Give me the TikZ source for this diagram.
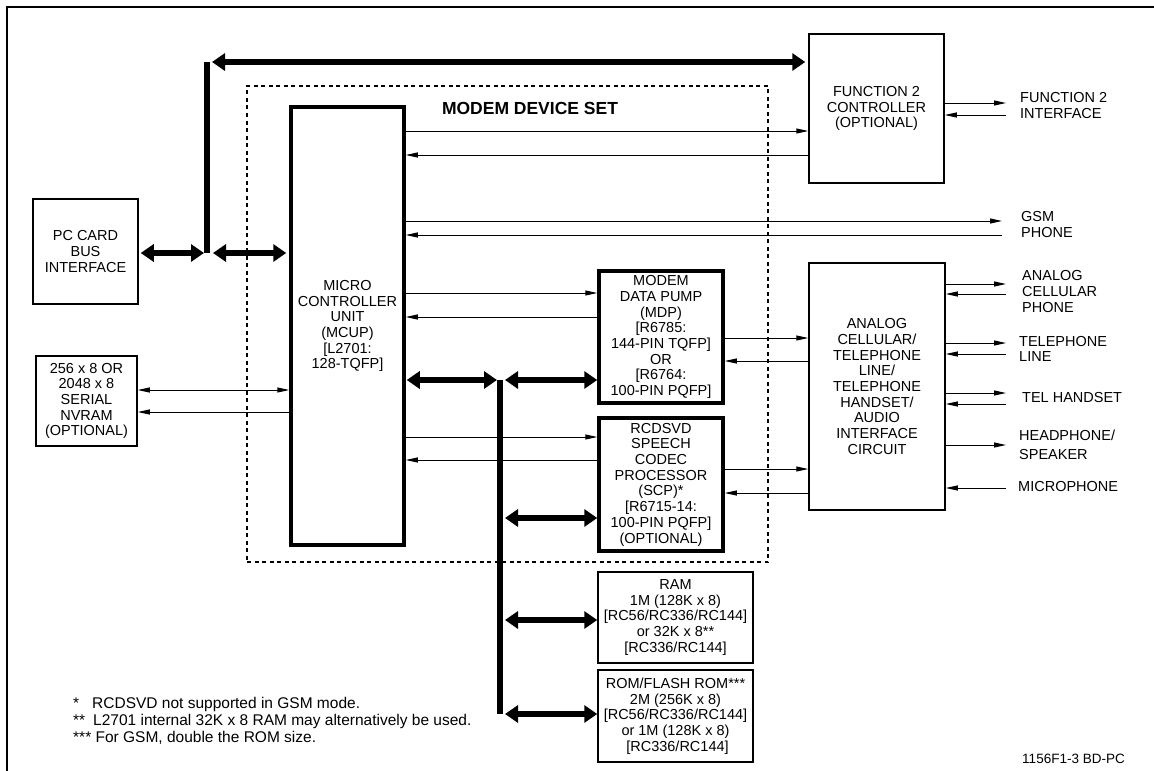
\documentclass[tikz,border=0pt]{standalone}
\usepackage{fontspec}
\setmainfont{Liberation Sans}
\usetikzlibrary{arrows.meta,positioning}

\newcommand{\blockfont}{\fontsize{14.5}{15.7}\selectfont}
\newcommand{\notefont}{\fontsize{15.5}{17}\selectfont}

\begin{document}
\begin{tikzpicture}[x=1pt,y=-1pt,
    box/.style={draw, line width=1.5pt, inner sep=0pt, align=center, font=\blockfont},
    chip/.style={box, line width=3.5pt},
    sig/.style={line width=1pt, >={Triangle[length=12pt,width=5pt]}},
    bus/.style={line width=5.5pt},
    busarrow/.style={line width=5.5pt, >={Triangle[length=13pt,width=17pt]}, <->},
    outlabel/.style={anchor=west, align=left, inner sep=0pt, font=\blockfont}]
    \useasboundingbox (0,0) rectangle (1154,771);

    % Frame
    \draw[line width=2.2pt] (7,771) -- (7,7) -- (1154,7);

    % Modem device set
    \node[draw, line width=1.5pt, dash pattern=on 4pt off 3.5pt, minimum width=521pt, minimum height=476pt] (devset) at (507.5,324) {};
    \node[font=\bfseries\fontsize{17.5}{19}\selectfont] (devtitle) at (530,108) {MODEM DEVICE SET};

    % Blocks
    \node[box, minimum width=105pt, minimum height=105pt] (pccard) at (85.5,251.5) {PC CARD\\BUS\\INTERFACE};
    \node[box, minimum width=101pt, minimum height=90pt] (nvram) at (86.5,401) {256 x 8 OR\\2048 x 8\\SERIAL\\NVRAM\\(OPTIONAL)};
    \node[chip, minimum width=113pt, minimum height=438pt] (mcu) at (347.5,326) {MICRO\\CONTROLLER\\UNIT\\(MCUP)\\{[}L2701:\\128-TQFP{]}};
    \node[box, minimum width=135pt, minimum height=149pt] (f2) at (876.5,108.5) {FUNCTION 2\\CONTROLLER\\(OPTIONAL)};
    \node[box, minimum width=136pt, minimum height=247pt] (analog) at (877,386.5) {ANALOG\\CELLULAR/\\TELEPHONE\\LINE/\\TELEPHONE\\HANDSET/\\AUDIO\\INTERFACE\\CIRCUIT};
    \node[chip, minimum width=124pt, minimum height=132pt] (mdp) at (661,337) {MODEM\\DATA PUMP\\(MDP)\\{[}R6785:\\144-PIN TQFP{]}\\OR\\{[}R6764:\\100-PIN PQFP{]}};
    \node[chip, minimum width=124pt, minimum height=133pt] (scp) at (661,484.5) {RCDSVD\\SPEECH\\CODEC\\PROCESSOR\\(SCP)*\\{[}R6715-14:\\100-PIN PQFP{]}\\(OPTIONAL)};
    \node[box, minimum width=155pt, minimum height=91pt] (ram) at (675.5,617.5) {RAM\\1M (128K x 8)\\{[}RC56/RC336/RC144{]}\\or 32K x 8**\\{[}RC336/RC144{]}};
    \node[box, minimum width=155pt, minimum height=92pt] (rom) at (675.5,716) {ROM/FLASH ROM***\\2M (256K x 8)\\{[}RC56/RC336/RC144{]}\\or 1M (128K x 8)\\\ {[}RC336/RC144{]}};

    % Outside labels
    \node[outlabel] (lf2) at (1020,105.5) {FUNCTION 2\\INTERFACE};
    \node[outlabel] (lgsm) at (1021,224.5) {GSM\\PHONE};
    \node[outlabel] (lcell) at (1022,291.5) {ANALOG\\CELLULAR\\PHONE};
    \node[outlabel] (lline) at (1019,349) {TELEPHONE\\LINE};
    \node[outlabel] (lhand) at (1022,398) {TEL HANDSET};
    \node[outlabel] (lhead) at (1019,444.5) {HEADPHONE/\\[3pt]SPEAKER};
    \node[outlabel] (lmic) at (1018,487) {MICROPHONE};

    % Bus points
    \coordinate (b1top) at (207,62);
    \coordinate (b1bot) at (207,253);
    \coordinate (b2top) at (500,380);
    \coordinate (b2bot) at (500,714);
    \coordinate (outend) at (1006,0);
    \coordinate (gsmend) at (1002,0);

    % Host bus
    \draw[bus] (b1top) -- (b1bot);
    \draw[busarrow, shorten <=5pt, shorten >=3pt] (b1top) -- (f2.west |- b1top);
    \draw[busarrow, shorten <=2pt, shorten >=3pt] (pccard.east |- b1bot) -- (b1bot);
    \draw[busarrow, shorten <=6pt, shorten >=3pt] (b1bot) -- (mcu.west |- b1bot);

    % Local bus
    \draw[bus] (b2top) -- (b2bot);
    \draw[busarrow, shorten <=1pt, shorten >=3pt] (mcu.east |- b2top) -- (b2top);
    \draw[busarrow, shorten <=5pt] (b2top) -- (mdp.west |- b2top);
    \draw[busarrow, shorten <=5pt] (b2top |- 0,518) -- (scp.west |- 0,518);
    \draw[busarrow, shorten <=5pt] (b2top |- 0,620) -- (ram.west |- 0,620);
    \draw[busarrow, shorten <=5pt] (b2bot) -- (rom.west |- b2bot);

    % MCU signals
    \draw[sig, ->] (mcu.east |- 0,131) -- (f2.west |- 0,131);
    \draw[sig, ->] (f2.west |- 0,155) -- (mcu.east |- 0,155);
    \draw[sig, ->] (mcu.east |- 0,221) -- (gsmend |- 0,221);
    \draw[sig, <-] (mcu.east |- 0,235) -- (gsmend |- 0,235);
    \draw[sig, ->] (mcu.east |- 0,293) -- (mdp.west |- 0,293);
    \draw[sig, ->] (mdp.west |- 0,317) -- (mcu.east |- 0,317);
    \draw[sig, ->] (mcu.east |- 0,437) -- (scp.west |- 0,437);
    \draw[sig, ->] (scp.west |- 0,460) -- (mcu.east |- 0,460);
    \draw[sig, <->] (nvram.east |- 0,390) -- (mcu.west |- 0,390);
    \draw[sig, ->] (mcu.west |- 0,412) -- (nvram.east |- 0,412);

    % Analog interface signals
    \draw[sig, ->] (mdp.east |- 0,338) -- (analog.west |- 0,338);
    \draw[sig, ->] (analog.west |- 0,361) -- (mdp.east |- 0,361);
    \draw[sig, ->] (scp.east |- 0,469) -- (analog.west |- 0,469);
    \draw[sig, ->] (analog.west |- 0,493) -- (scp.east |- 0,493);

    % Outside signals
    \draw[sig, ->] (f2.east |- 0,103) -- (outend |- 0,103);
    \draw[sig, <-] (f2.east |- 0,115) -- (outend |- 0,115);
    \draw[sig, ->] (analog.east |- 0,284) -- (outend |- 0,284);
    \draw[sig, <-] (analog.east |- 0,294) -- (outend |- 0,294);
    \draw[sig, ->] (analog.east |- 0,343) -- (outend |- 0,343);
    \draw[sig, <-] (analog.east |- 0,354) -- (outend |- 0,354);
    \draw[sig, ->] (analog.east |- 0,393) -- (outend |- 0,393);
    \draw[sig, <-] (analog.east |- 0,404) -- (outend |- 0,404);
    \draw[sig, ->] (analog.east |- 0,445) -- (outend |- 0,445);
    \draw[sig, <-] (analog.east |- 0,488) -- (outend |- 0,488);

    % Notes
    \node[anchor=west, align=left, inner sep=0pt, font=\notefont] (notes) at (73,721) {\makebox[19pt][l]{*}RCDSVD not supported in GSM mode.\\\makebox[20pt][l]{**}L2701 internal 32K x 8 RAM may alternatively be used.\\{}*** For GSM, double the ROM size.};
    \node[inner sep=0pt, font=\fontsize{13.5}{15}\selectfont] (figcode) at (1073.5,759) {1156F1-3 BD-PC};
\end{tikzpicture}
\end{document}
